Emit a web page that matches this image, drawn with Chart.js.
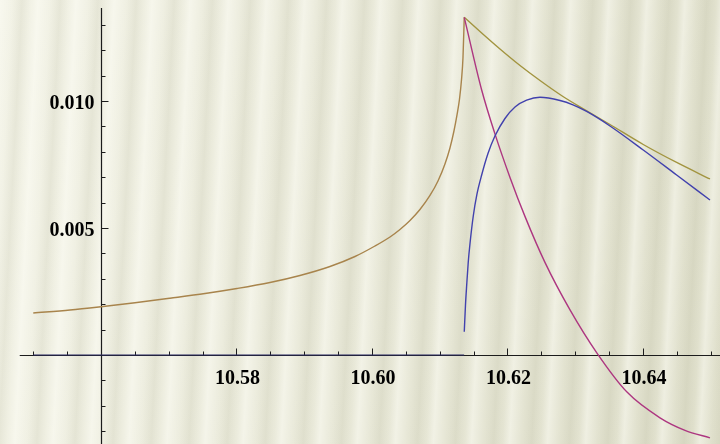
<!DOCTYPE html>
<html>
<head>
<meta charset="utf-8">
<script src="https://cdn.jsdelivr.net/npm/chart.js@4/dist/chart.umd.min.js"></script>
<style>
  body { margin: 0; }
  #wrap {
    width: 720px; height: 444px; position: relative;
    background:
      repeating-linear-gradient(93deg, rgba(255,255,248,0.45) 0px, rgba(255,255,248,0) 12px, rgba(120,120,80,0.09) 22px, rgba(255,255,248,0) 31px, rgba(255,255,248,0.45) 38px),
      linear-gradient(100deg, #f3f3e7 0%, #e9e9d9 50%, #dfdfcb 100%);
  }
</style>
</head>
<body>
<div id="wrap"><canvas id="graf"></canvas></div>
<script>
// rising branch, shared by the magenta and olive curves (they overlap -> brown)
const leftX = [10.5500, 10.55542, 10.5600, 10.56502, 10.57018, 10.57535, 10.58007, 10.58494, 10.58937, 10.59380, 10.59749, 10.60044, 10.60266, 10.60413, 10.60561, 10.60708, 10.60856, 10.60974, 10.61077, 10.61151, 10.61210, 10.61255, 10.61292, 10.61321, 10.61343, 10.61362]
const leftY = [0.001654, 0.001772, 0.001902, 0.002059, 0.002236, 0.002421, 0.002618, 0.002854, 0.003130, 0.003484, 0.003878, 0.004291, 0.004646, 0.004941, 0.005295, 0.005728, 0.006280, 0.006850, 0.007520, 0.008150, 0.008819, 0.009449, 0.010079, 0.010827, 0.011693, 0.013295]

// magenta, after the peak
const magX = [10.61362, 10.61619, 10.61815, 10.62037, 10.62258, 10.62553, 10.62923, 10.63321, 10.63764, 10.64251, 10.64620, 10.64989]
const magY = [0.013295, 0.010433, 0.008705, 0.006992, 0.005457, 0.003646, 0.001776, 0.000075, -0.001461, -0.002472, -0.002965, -0.003260]

// olive, after the peak
const oliveX = [10.61362, 10.61594, 10.61889, 10.62185, 10.62480, 10.62819, 10.63169, 10.63513, 10.64004, 10.64497, 10.64989]
const oliveY = [0.013295, 0.012736, 0.012047, 0.011398, 0.010807, 0.010177, 0.009614, 0.009075, 0.008287, 0.007579, 0.006929]

// blue: zero before the peak, then this
const blueBaseX = [10.5500, 10.6136]
const blueBaseY = [0, 0]
const blueX = [10.61362, 10.61380, 10.61398, 10.61421, 10.61446, 10.61495, 10.61550, 10.61619, 10.61712, 10.61815, 10.61963, 10.62111, 10.62283, 10.62480, 10.62775, 10.62967, 10.63169, 10.63513, 10.64004, 10.64497, 10.64989]
const blueY = [0.000917, 0.001969, 0.002756, 0.003661, 0.004370, 0.005472, 0.006339, 0.007087, 0.007933, 0.008622, 0.009311, 0.009764, 0.010031, 0.010146, 0.010020, 0.009850, 0.009587, 0.009016, 0.008071, 0.007087, 0.006102]

// axes
const originX = 10.56
const xTicks = [10.58, 10.60, 10.62, 10.64]
const xTickLabels = ['10.58', '10.60', '10.62', '10.64']
const yTicks = [0.005, 0.010]
const yTickLabels = ['0.005', '0.010']

const pts = (xs, ys) => xs.map((v, i) => ({ x: v, y: ys[i] }))

const mmaAxes = {
    id: 'mmaAxes',
    beforeDatasetsDraw(chart) {
        const ctx = chart.ctx
        const sx = chart.scales.x
        const sy = chart.scales.y
        const ox = Math.round(sx.getPixelForValue(originX)) + 0.5
        const oy = Math.round(sy.getPixelForValue(0)) + 0.5
        ctx.save()
        ctx.strokeStyle = '#1c1c1c'
        ctx.lineWidth = 1.2
        ctx.beginPath()
        ctx.moveTo(sx.getPixelForValue(10.548), oy)
        ctx.lineTo(chart.width, oy)
        ctx.moveTo(ox, sy.getPixelForValue(0.01366))
        ctx.lineTo(ox, chart.height)
        ctx.stroke()

        // x ticks (minor every 0.005)
        ctx.lineWidth = 1
        ctx.beginPath()
        for (let i = 0; i <= 20; i++) {
            const v = 10.55 + i * 0.005
            if (Math.abs(v - originX) < 1e-6) continue
            const px = Math.round(sx.getPixelForValue(v)) + 0.5
            const major = xTicks.some(t => Math.abs(t - v) < 1e-6)
            ctx.moveTo(px, oy)
            ctx.lineTo(px, oy - (major ? 7 : 4))
        }
        // y ticks (minor every 0.001)
        for (let i = -3; i <= 13; i++) {
            if (i === 0) continue
            const v = i * 0.001
            const py = Math.round(sy.getPixelForValue(v)) + 0.5
            const major = yTicks.some(t => Math.abs(t - v) < 1e-9)
            ctx.moveTo(ox, py)
            ctx.lineTo(ox + (major ? 7 : 4), py)
        }
        ctx.stroke()

        ctx.fillStyle = '#000'
        ctx.font = 'bold 20px "Liberation Serif", "DejaVu Serif", serif'
        ctx.textAlign = 'center'
        ctx.textBaseline = 'alphabetic'
        xTicks.forEach((t, i) => {
            ctx.fillText(xTickLabels[i], sx.getPixelForValue(t) + 1, oy + 28)
        })
        ctx.textAlign = 'right'
        yTicks.forEach((t, i) => {
            ctx.fillText(yTickLabels[i], ox - 7, sy.getPixelForValue(t) + 8.5)
        })
        ctx.restore()
    }
}

const brown = '#a8844c'
const blue = '#4141ad'
const magenta = '#ad3680'
const olive = '#a2943f'

const line = (data, color, w) => ({
    data: data,
    borderColor: color,
    borderWidth: w || 1.4,
    pointRadius: 0,
    fill: false,
    cubicInterpolationMode: 'monotone'
})

new Chart(document.getElementById('graf'), {
    type: 'line',
    data: {
        datasets: [
            line(pts(blueBaseX, blueBaseY), '#2c2c66', 1),
            line(pts(blueX, blueY), blue),
            line(pts(magX, magY), magenta),
            line(pts(oliveX, oliveY), olive),
            line(pts(leftX, leftY), brown)
        ]
    },
    options: {
        responsive: true,
        maintainAspectRatio: false,
        animation: false,
        layout: { padding: 0 },
        scales: {
            x: { type: 'linear', min: 10.54509, max: 10.65137, display: false },
            y: { type: 'linear', min: -0.003504, max: 0.013976, display: false }
        },
        plugins: {
            legend: { display: false },
            tooltip: { enabled: false }
        }
    },
    plugins: [mmaAxes]
})
</script>
</body>
</html>
